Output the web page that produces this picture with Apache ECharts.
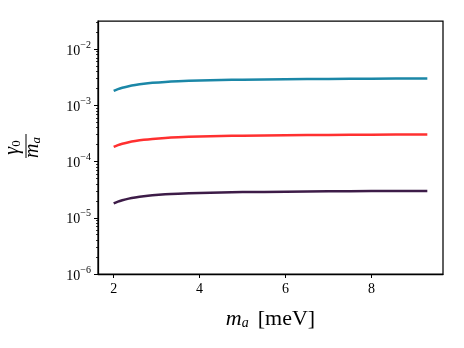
<!DOCTYPE html>
<html>
<head>
<meta charset="utf-8">
<script src="https://cdn.jsdelivr.net/npm/echarts@6/dist/echarts.min.js"></script>
<style>
html, body { margin: 0; padding: 0; background: #fff; }
#main { width: 464px; height: 348px; }
</style>
</head>
<body>
<div id="main"></div>
<script>
// values
var massValues = [2.0, 2.1, 2.2, 2.35, 2.5, 2.7, 2.9, 3.2, 3.5, 4.0, 4.5, 5.0, 6.0, 7.0, 8.0, 9.3];
var tealValues = [1.80e-3, 1.94e-3, 2.05e-3, 2.19e-3, 2.30e-3, 2.42e-3, 2.51e-3, 2.61e-3, 2.68e-3, 2.77e-3, 2.82e-3, 2.86e-3, 2.91e-3, 2.95e-3, 2.98e-3, 3.01e-3];
var redValues = [1.82e-4, 1.96e-4, 2.07e-4, 2.21e-4, 2.32e-4, 2.44e-4, 2.53e-4, 2.63e-4, 2.70e-4, 2.79e-4, 2.84e-4, 2.88e-4, 2.93e-4, 2.97e-4, 3.00e-4, 3.03e-4];
var purpleValues = [1.80e-5, 1.94e-5, 2.05e-5, 2.19e-5, 2.30e-5, 2.42e-5, 2.51e-5, 2.61e-5, 2.68e-5, 2.77e-5, 2.82e-5, 2.86e-5, 2.91e-5, 2.95e-5, 2.98e-5, 3.00e-5];
var xTicks = [2, 4, 6, 8];
var yTicks = [1e-6, 1e-5, 1e-4, 1e-3, 1e-2];
var xMin = 1.635, xMax = 9.665;
var yMin = 1e-6, yMax = 0.0316;

var serif = "Liberation Serif";

var yMinor = [];
for (var i = 0; i < yTicks.length; i++) {
    for (var k = 2; k <= 9; k++) {
        var v = +(k * yTicks[i]).toPrecision(3);
        if (v < yMax) yMinor.push(v);
    }
}

function pairs(ys) {
    return massValues.map(function (x, i) { return [x, ys[i]]; });
}

function supLabel(v) {
    var e = Math.round(Math.log10(v));
    return "{b|10}{s|\u2212" + Math.abs(e) + "}";
}

var dom = document.getElementById("main");
var myChart = echarts.init(dom, null, { renderer: "canvas" });

var lineStyle = function (c) {
    return { color: c, width: 2.5 };
};

var option = {
    animation: false,
    grid: {
        left: 98, right: 21, top: 21, bottom: 74,
        outerBoundsMode: "none",
        show: true, borderColor: "#000", borderWidth: 1.25, backgroundColor: "transparent"
    },
    xAxis: {
        type: "value",
        min: xMin,
        max: xMax,
        splitLine: { show: false },
        axisLine: { show: true, onZero: false, lineStyle: { color: "#000", width: 1.25 } },
        axisTick: { show: true, length: 4, customValues: xTicks, lineStyle: { color: "#000", width: 1 } },
        axisLabel: {
            customValues: xTicks,
            color: "#000",
            fontFamily: serif,
            fontSize: 14,
            margin: 8
        },
        name: "{i|m}{sub|a}{sp| }{r|[meV]}",
        nameLocation: "middle",
        nameGap: 34,
        nameMoveOverlap: false,
        nameTextStyle: {
            rich: {
                i: { fontFamily: serif, fontStyle: "italic", fontSize: 22, color: "#000" },
                sub: { fontFamily: serif, fontStyle: "italic", fontSize: 14, color: "#000", verticalAlign: "bottom", padding: [6, 0, 0, 0] },
                sp: { fontFamily: serif, fontSize: 22, width: 9 },
                r: { fontFamily: serif, fontSize: 22, color: "#000" }
            }
        }
    },
    yAxis: [{
        type: "log",
        logBase: 10,
        min: yMin,
        max: yMax,
        splitLine: { show: false },
        axisLine: { show: true, lineStyle: { color: "#000", width: 1.25 } },
        axisTick: { show: true, length: 4, customValues: yTicks, lineStyle: { color: "#000", width: 1 } },
        axisLabel: {
            customValues: yTicks,
            margin: 7,
            formatter: function (v) { return supLabel(v); },
            rich: {
                b: { fontFamily: serif, fontSize: 14, color: "#000", lineHeight: 18, verticalAlign: "bottom" },
                s: { fontFamily: serif, fontSize: 10, color: "#000", verticalAlign: "top", lineHeight: 18, padding: [0, 0, 6, 0] }
            }
        },
        // numerator of the axis title
        name: "{g|\u03b3}{z|0}",
        nameLocation: "middle",
        nameGap: 75,
        nameMoveOverlap: false,
        nameTextStyle: {
            rich: {
                g: { fontFamily: serif, fontStyle: "italic", fontSize: 20, color: "#000" },
                z: { fontFamily: serif, fontSize: 13, color: "#000", verticalAlign: "bottom", padding: [5, 0, 0, 0] }
            }
        }
    }, {
        type: "log",
        logBase: 10,
        min: yMin,
        max: yMax,
        position: "left",
        splitLine: { show: false },
        axisLine: { show: false },
        axisTick: { show: true, length: 2, customValues: yMinor, lineStyle: { color: "#000", width: 0.8 } },
        axisLabel: { show: false },
        // denominator of the axis title
        name: "{m|m}{a|a}",
        nameLocation: "middle",
        nameGap: 55,
        nameMoveOverlap: false,
        nameTextStyle: {
            rich: {
                m: { fontFamily: serif, fontStyle: "italic", fontSize: 20, color: "#000" },
                a: { fontFamily: serif, fontStyle: "italic", fontSize: 13, color: "#000", verticalAlign: "bottom", padding: [5, 0, 0, 0] }
            }
        }
    }],
    series: [
        { type: "line", name: "teal", data: pairs(tealValues), smooth: 0.3, showSymbol: false, lineStyle: lineStyle("#1b87a7") },
        { type: "line", name: "red", data: pairs(redValues), smooth: 0.3, showSymbol: false, lineStyle: lineStyle("#ff3030") },
        { type: "line", name: "purple", data: pairs(purpleValues), smooth: 0.3, showSymbol: false, lineStyle: lineStyle("#3d1c48") }
    ],
    graphic: [{
        type: "line",
        shape: { x1: 26, y1: 134, x2: 26, y2: 158 },
        style: { stroke: "#000", lineWidth: 1 }
    }]
};

myChart.setOption(option, true);
</script>
</body>
</html>
